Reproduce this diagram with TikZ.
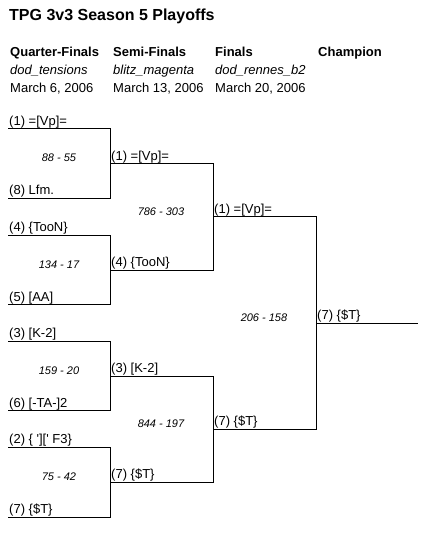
\documentclass[tikz,border=0pt]{standalone}
\usepackage{fontspec}
\setmainfont{Liberation Sans}[Ligatures=TeXOff]
\begin{document}
\begin{tikzpicture}[x=1pt,y=-1pt,
  bline/.style={line width=1pt},
  lbl/.style={anchor=base west, inner sep=0pt, font=\fontsize{13}{15}\selectfont},
  score/.style={anchor=base, inner sep=0pt, font=\fontsize{11}{13}\selectfont\itshape},
  hdr/.style={anchor=base west, inner sep=0pt, font=\fontsize{13}{15}\selectfont\bfseries},
  sub/.style={anchor=base west, inner sep=0pt, font=\fontsize{13}{15}\selectfont\itshape},
  dat/.style={anchor=base west, inner sep=0pt, font=\fontsize{13}{15}\selectfont},
  ttl/.style={anchor=base west, inner sep=0pt, font=\fontsize{16}{18}\selectfont\bfseries}]
\useasboundingbox[fill=white] (0,0) rectangle (433,534);

% title and headers
\node[ttl] (title) at (9,21) {TPG 3v3 Season 5 Playoffs};
\node[hdr] (h1) at (10,57) {Quarter-Finals};
\node[hdr] (h2) at (113,57) {Semi-Finals};
\node[hdr] (h3) at (215,57) {Finals};
\node[hdr] (h4) at (318,57) {Champion};
\node[sub] (s1) at (10,75) {dod\_tensions};
\node[sub] (s2) at (113,75) {blitz\_magenta};
\node[sub] (s3) at (215,75) {dod\_rennes\_b2};
\node[dat] (d1) at (10,93) {March 6, 2006};
\node[dat] (d2) at (113,93) {March 13, 2006};
\node[dat] (d3) at (215,93) {March 20, 2006};

% line starts
\coordinate (Q1) at (8,129);
\coordinate (Q2) at (8,198.5);
\coordinate (Q3) at (8,235);
\coordinate (Q4) at (8,304.5);
\coordinate (Q5) at (8,341);
\coordinate (Q6) at (8,410.5);
\coordinate (Q7) at (8,447);
\coordinate (Q8) at (8,517);
\coordinate (S1) at (110,164);
\coordinate (S2) at (110,270);
\coordinate (S3) at (110,376);
\coordinate (S4) at (110,482);
\coordinate (F1) at (213,217);
\coordinate (F2) at (213,429);
\coordinate (C) at (316,323);
\coordinate (Cend) at (418,323);

% bracket
\draw[bline] (Q1) -- (Q1 -| S1) -- (Q2 -| S1) -- (Q2);
\draw[bline] (Q3) -- (Q3 -| S1) -- (Q4 -| S1) -- (Q4);
\draw[bline] (Q5) -- (Q5 -| S1) -- (Q6 -| S1) -- (Q6);
\draw[bline] (Q7) -- (Q7 -| S1) -- (Q8 -| S1) -- (Q8);
\draw[bline] (S1) -- (S1 -| F1) -- (S2 -| F1) -- (S2);
\draw[bline] (S3) -- (S3 -| F1) -- (S4 -| F1) -- (S4);
\draw[bline] (F1) -- (F1 -| C) -- (F2 -| C) -- (F2);
\draw[bline] (C) -- (Cend);

% team labels
\node[lbl] (tq1) at ([shift={(1,-3.5)}]Q1) {(1) =[Vp]=};
\node[lbl] (tq2) at ([shift={(1,-3.5)}]Q2) {(8) Lfm.};
\node[lbl] (tq3) at ([shift={(1,-3.5)}]Q3) {(4) \{TooN\}};
\node[lbl] (tq4) at ([shift={(1,-3.5)}]Q4) {(5) [AA]};
\node[lbl] (tq5) at ([shift={(1,-3.5)}]Q5) {(3) [K-2]};
\node[lbl] (tq6) at ([shift={(1,-3.5)}]Q6) {(6) [-TA-]2};
\node[lbl] (tq7) at ([shift={(1,-3.5)}]Q7) {(2) \{ '][' F3\}};
\node[lbl] (tq8) at ([shift={(1,-3.5)}]Q8) {(7) \{\$T\}};
\node[lbl] (ts1) at ([shift={(1,-3.5)}]S1) {(1) =[Vp]=};
\node[lbl] (ts2) at ([shift={(1,-3.5)}]S2) {(4) \{TooN\}};
\node[lbl] (ts3) at ([shift={(1,-3.5)}]S3) {(3) [K-2]};
\node[lbl] (ts4) at ([shift={(1,-3.5)}]S4) {(7) \{\$T\}};
\node[lbl] (tf1) at ([shift={(1,-3.5)}]F1) {(1) =[Vp]=};
\node[lbl] (tf2) at ([shift={(1,-3.5)}]F2) {(7) \{\$T\}};
\node[lbl] (tc) at ([shift={(1,-3.5)}]C) {(7) \{\$T\}};

% scores
\node[score] (sc1) at (59,162) {88 - 55};
\node[score] (sc2) at (59,268) {134 - 17};
\node[score] (sc3) at (59,374) {159 - 20};
\node[score] (sc4) at (59,480) {75 - 42};
\node[score] (sc5) at (161,215) {786 - 303};
\node[score] (sc6) at (161,427) {844 - 197};
\node[score] (sc7) at (264,321) {206 - 158};
\end{tikzpicture}
\end{document}
